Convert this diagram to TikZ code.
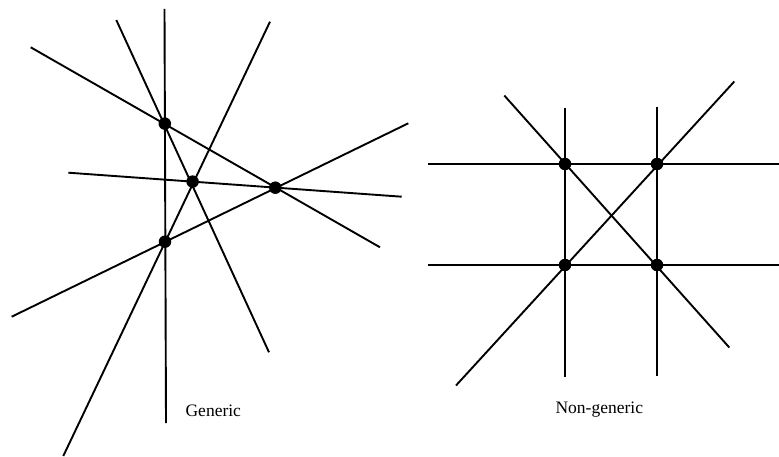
\documentclass[tikz,border=0pt]{standalone}
\usepackage{fontspec}
\setmainfont{Liberation Serif}
\usetikzlibrary{calc}
\begin{document}
\begin{tikzpicture}[x=1pt,y=-1pt,
  ln/.style={line width=1.9pt},
  dot/.style={circle, fill=black, inner sep=0pt, minimum size=12.5pt},
  lbl/.style={font=\fontsize{17.5}{20}\selectfont, inner sep=0pt}]
\useasboundingbox (0,0) rectangle (779,457);
% ---------- Generic ----------
\coordinate (P1) at (164.8,123.6);
\coordinate (P2) at (192.6,181.6);
\coordinate (P3) at (275.3,187.7);
\coordinate (P4) at (165,241.7);
\coordinate (V1) at (164.5,9);
\coordinate (V2) at (166,423);
\coordinate (A1) at (30.7,47.3);
\coordinate (A2) at (380,247.3);
\coordinate (B1) at (116.3,20);
\coordinate (B2) at (269,352.3);
\coordinate (C1) at (270,21.7);
\coordinate (C2) at (63.3,456);
\coordinate (D1) at (11.7,316.7);
\coordinate (D2) at (408.3,123.3);
\coordinate (E1) at (68.3,172.7);
\coordinate (E2) at (401.7,196.7);
\draw[ln] (V1) -- (V2);
\draw[ln] (A1) -- (A2);
\draw[ln] (B1) -- (B2);
\draw[ln] (C1) -- (C2);
\draw[ln] (D1) -- (D2);
\draw[ln] (E1) -- (E2);
\node[dot] (g1) at (P1) {};
\node[dot] (g2) at (P2) {};
\node[dot] (g3) at (P3) {};
\node[dot] (g4) at (P4) {};
\node[lbl] (glabel) at (213.3,411) {Generic};
% ---------- Non-generic ----------
\coordinate (Q1) at (565,164);
\coordinate (Q2) at (657,164);
\coordinate (Q3) at (565,265);
\coordinate (Q4) at (657,265);
\coordinate (H1a) at (428.3,164);
\coordinate (H1b) at (779,164);
\coordinate (H2a) at (428.3,265);
\coordinate (H2b) at (779,265);
\coordinate (L1a) at (565,107.7);
\coordinate (L1b) at (565,376.7);
\coordinate (L2a) at (657,106.7);
\coordinate (L2b) at (657,376);
\coordinate (X1a) at (504.3,95.5);
\coordinate (X1b) at (729.3,347.5);
\coordinate (X2a) at (456,385.5);
\coordinate (X2b) at (734.3,81.5);
\draw[ln] (H1a) -- (H1b);
\draw[ln] (H2a) -- (H2b);
\draw[ln] (L1a) -- (L1b);
\draw[ln] (L2a) -- (L2b);
\draw[ln] (X1a) -- (X1b);
\draw[ln] (X2a) -- (X2b);
\node[dot] (n1) at (Q1) {};
\node[dot] (n2) at (Q2) {};
\node[dot] (n3) at (Q3) {};
\node[dot] (n4) at (Q4) {};
\node[lbl] (nlabel) at (599.3,409.3) {Non-generic};
\end{tikzpicture}
\end{document}
